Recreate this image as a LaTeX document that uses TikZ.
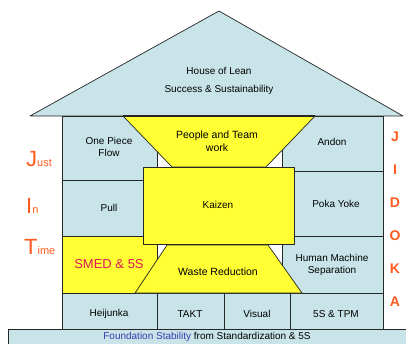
\documentclass[tikz,border=0pt]{standalone}
\usepackage{fontspec}
\setmainfont{Liberation Sans}
\usetikzlibrary{positioning}
\definecolor{holblue}{HTML}{C8E4E8}
\definecolor{holyellow}{HTML}{FFFF33}
\definecolor{holorange}{HTML}{FF5A1E}
\definecolor{holmagenta}{HTML}{E0185A}
\definecolor{holnavy}{HTML}{3A3AB0}
\tikzset{
  every picture/.append style={line join=round},
  hol cell/.style={fill=holblue,draw=black!85,line width=0.7pt},
  hol pillar/.style={fill=holyellow,draw=black!85,line width=0.7pt},
  hol label/.style={font=\fontsize{10}{12}\selectfont,align=center,inner sep=0pt},
  hol jit/.style={text=holorange,anchor=base west,inner sep=0pt},
  hol jidoka/.style={text=holorange,font=\fontsize{14}{14}\selectfont\bfseries,inner sep=0pt}
}

\begin{document}
\begin{tikzpicture}[x=1pt,y=-1pt]
  \useasboundingbox (0,0) rectangle (406,343);
  % roof and body
  \draw[hol cell] (30,116) -- (219,11) -- (403,116) -- cycle;
  \draw[hol cell] (62,116) rectangle (383,329);
  \fill[white] (157,116) rectangle (282,293);
  % left pillar
  \draw[hol cell] (62,116) rectangle (157,180);
  \draw[hol cell] (62,180) rectangle (143,236);
  \draw[hol pillar] (62,236) rectangle (157,293);
  % right pillar
  \draw[hol cell] (282,116) rectangle (383,171);
  \draw[hol cell] (294,171) rectangle (383,236);
  \draw[hol cell] (282,236) rectangle (383,293);
  % bottom row
  \draw[hol cell] (62,293) rectangle (157,329);
  \draw[hol cell] (157,293) rectangle (224,329);
  \draw[hol cell] (224,293) rectangle (290,329);
  \draw[hol cell] (290,293) rectangle (383,329);
  % centre
  \draw[hol pillar] (123,116) -- (315,116) -- (266,167) -- (172,167) -- cycle;
  \draw[hol pillar] (167,245) -- (268,245) -- (302,293) -- (135,293) -- cycle;
  \draw[hol pillar] (143,167) rectangle (294,244);
  \draw[black!85, line width=1.6pt] (123,116) -- (315,116);
  % foundation
  \draw[hol cell] (8,329) rectangle (412,350);

  \node[hol label] (title) at (219,71) {House of Lean};
  \node[hol label] (subtitle) at (219,90) {Success \& Sustainability};
  \node[hol label] (flow) at (109,147) {One Piece\\Flow};
  \node[hol label] (pull) at (109,208) {Pull};
  \node[hol label, font=\fontsize{13}{13}\selectfont, text=holmagenta] (smed) at (109,264) {SMED \& 5S};
  \node[hol label, font=\fontsize{10.5}{12.5}\selectfont] (people) at (217,141) {People and Team\\work};
  \node[hol label] (kaizen) at (218,205) {Kaizen};
  \node[hol label, font=\fontsize{10.5}{12.5}\selectfont] (waste) at (218,272) {Waste Reduction};
  \node[hol label] (andon) at (332,142) {Andon};
  \node[hol label] (poka) at (336,204) {Poka Yoke};
  \node[hol label] (human) at (332,265) {Human Machine\\Separation};
  \node[hol label] (heijunka) at (109,314) {Heijunka};
  \node[hol label] (takt) at (190,314) {TAKT};
  \node[hol label] (visual) at (257,314) {Visual};
  \node[hol label] (tpm) at (336,314) {5S \& TPM};
  \node[hol label] (base) at (207,337) {\textcolor{holnavy}{Foundation Stability} from Standardization \& 5S};

  % just in time
  \node[hol jit] (just) at (26,166) {\fontsize{22}{22}\selectfont J\fontsize{11}{11}\selectfont ust};
  \node[hol jit] (in) at (26,213) {\fontsize{22}{22}\selectfont I\fontsize{11}{11}\selectfont n};
  \node[hol jit] (time) at (24,254) {\fontsize{22}{22}\selectfont T\fontsize{11}{11}\selectfont ime};
  % jidoka
  \foreach \ch [count=\i] in {J,I,D,O,K,A}
    \node[hol jidoka] (jidoka\i) at (395,{104+33*\i}) {\ch};
\end{tikzpicture}
\end{document}
